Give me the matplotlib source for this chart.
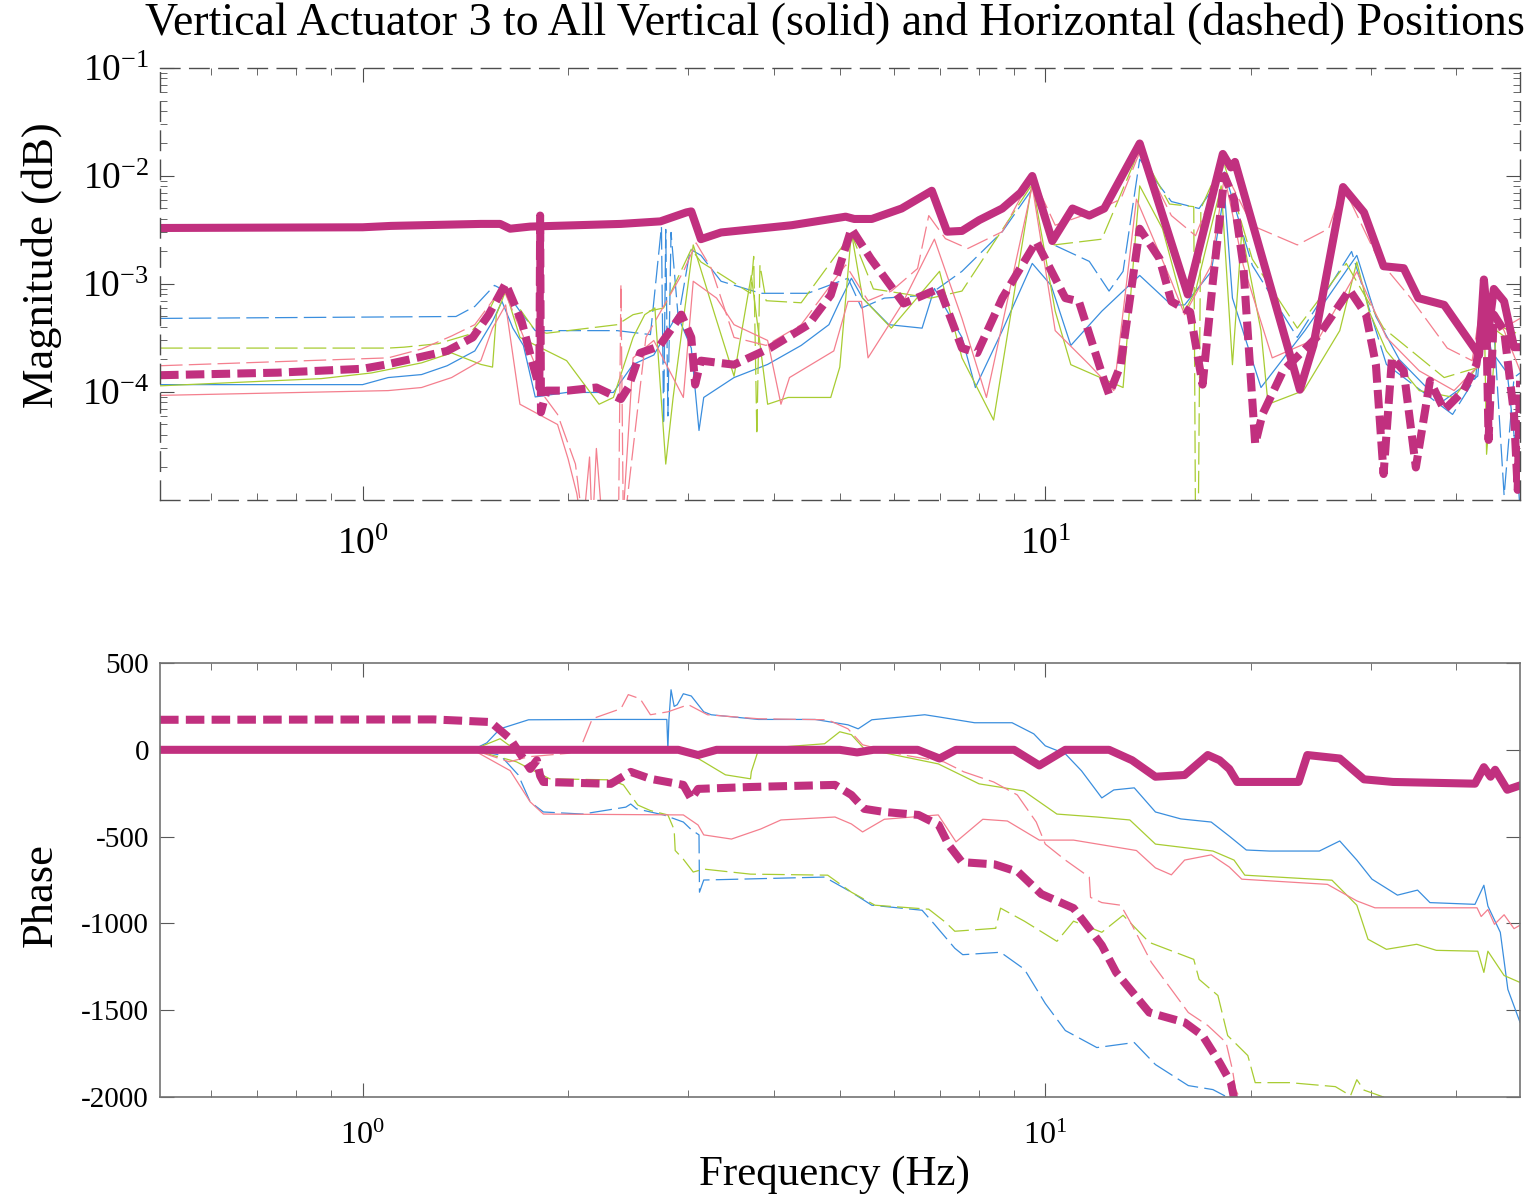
import matplotlib
matplotlib.use("Agg")
import matplotlib.pyplot as plt
from matplotlib.ticker import LogLocator, NullFormatter, FixedLocator

plt.rcParams['font.family'] = ['Liberation Serif', 'DejaVu Serif']
plt.rcParams['mathtext.fontset'] = 'stix'
plt.rcParams['axes.unicode_minus'] = False

MAGENTA = '#c1307f'
BLUE = '#3a8ede'
GREEN = '#a8cc32'
PINK = '#f47f8e'

# ---- magnitude, thick curves (vertical 3 solid, horizontal dashed)
mag_v3_f = [0.505, 1.0, 1.1, 1.49, 1.59, 1.645, 1.76, 2.39, 2.73, 2.98,
            3.03, 3.13, 3.35, 4.25, 5.1, 5.25, 5.57, 6.16, 6.82, 7.18,
            7.55, 8.0, 8.65, 9.2, 9.57, 10.24, 10.96, 11.6, 12.2, 13.75,
            16.17, 18.2, 18.7, 18.96, 23.6, 24.7, 27.3, 29.3, 31.3, 33.5,
            35.2, 38.4, 43.2, 43.9, 44.6, 45.4, 47.0, 48.6, 49.6]
mag_v3 = [3.3e-3, 3.35e-3, 3.45e-3, 3.6e-3, 3.6e-3, 3.25e-3, 3.4e-3, 3.6e-3, 3.8e-3, 4.6e-3,
          4.7e-3, 2.6e-3, 3.0e-3, 3.5e-3, 4.2e-3, 4.0e-3, 4.0e-3, 5.0e-3, 7.3e-3, 3.05e-3,
          3.1e-3, 3.9e-3, 5.0e-3, 7.0e-3, 1.0e-2, 2.5e-3, 5.0e-3, 4.3e-3, 5.0e-3, 2.0e-2,
          8.0e-4, 1.6e-2, 1.2e-2, 1.35e-2, 1.05e-4, 2.7e-4, 7.9e-3, 4.6e-3, 1.46e-3, 1.4e-3,
          7.4e-4, 6.4e-4, 2.2e-4, 1.1e-3, 3.7e-4, 9.0e-4, 6.9e-4, 2.6e-4, 2.6e-4]

mag_h3_f = [0.505, 0.75, 1.0, 1.08, 1.2, 1.33, 1.45, 1.53, 1.62, 1.71,
            1.77, 1.815, 1.82, 1.825, 1.86, 2.0, 2.2, 2.39, 2.45, 2.55,
            2.72, 2.93, 3.03, 3.07, 3.13, 3.5, 3.95, 4.5, 4.85, 5.2,
            5.55, 6.2, 7.0, 7.55, 7.95, 8.65, 9.7, 10.7, 11.2, 12.2,
            12.4, 12.9, 13.75, 14.7, 15.3, 16.3, 17.0, 17.6, 18.3, 18.9,
            19.5, 20.3, 20.8, 22.3, 25.2, 27.9, 29.5, 30.5, 31.3, 32.2,
            33.5, 34.9, 36.6, 38.4, 41.0, 42.8, 44.2, 44.6, 45.4, 47.0,
            48.6, 49.2, 49.6]
mag_h3 = [1.43e-4, 1.51e-4, 1.64e-4, 1.79e-4, 2.07e-4, 2.4e-4, 3.2e-4, 5.2e-4, 1.01e-3, 4.5e-4,
          1.95e-4, 1.1e-4, 4.3e-3, 6.5e-5, 1.03e-4, 1.03e-4, 1.1e-4, 8.6e-5, 1.1e-4, 2.3e-4,
          2.65e-4, 5.2e-4, 3.2e-4, 1.17e-4, 1.95e-4, 1.79e-4, 2.55e-4, 4.2e-4, 7.9e-4, 3.25e-3,
          1.72e-3, 6.6e-4, 9.1e-4, 2.55e-4, 2.3e-4, 7.4e-4, 2.47e-3, 7.4e-4, 6.9e-4, 1.27e-4,
          9.5e-5, 1.79e-4, 3.25e-3, 1.72e-3, 6.9e-4, 5.5e-4, 1.17e-4, 1.06e-3, 1.0e-2, 6.1e-3,
          1.49e-3, 3.3e-5, 6.2e-5, 1.57e-4, 3.4e-4, 8.8e-4, 5.2e-4, 1.79e-4, 1.74e-5, 2.07e-4,
          1.57e-4, 2.0e-5, 1.27e-4, 6.8e-5, 1.03e-4, 1.79e-4, 7.4e-4, 3.6e-5, 5.2e-4, 3.7e-4,
          6.2e-5, 1.24e-5, 1.27e-4]

# ---- magnitude, thin curves
mag_blue_h_f = [0.505, 1.37, 1.46, 1.56, 1.62, 1.70, 1.79, 2.36, 2.64, 2.74,
                2.76, 2.78, 2.80, 2.83, 2.90, 3.02, 3.13, 3.35, 3.83, 4.49,
                5.14, 5.38, 5.81, 6.75, 7.55, 8.65, 9.57, 10.34, 11.6, 12.4,
                13.0, 13.75, 15.3, 16.8, 18.3, 20.1, 23.4, 28.1, 30.0, 31.6,
                39.5, 42.7, 43.9, 45.4, 47.0, 48.6, 49.6]
mag_blue_h = [4.8e-4, 5.0e-4, 6.2e-4, 9.7e-4, 8.6e-4, 5.6e-4, 3.7e-4, 3.7e-4, 3.4e-4, 3.4e-3,
              5.0e-5, 3.2e-3, 6.0e-5, 3.0e-3, 4.8e-4, 2.1e-3, 1.84e-3, 1.06e-3, 8.2e-4, 8.2e-4,
              1.13e-3, 6.0e-4, 7.4e-4, 7.9e-4, 1.31e-3, 3.05e-3, 7.6e-3, 2.27e-3, 1.62e-3, 8.6e-4,
              1.31e-3, 1.43e-2, 5.8e-3, 5.0e-3, 1.09e-2, 1.49e-3, 3.2e-4, 2.0e-3, 5.2e-4, 1.8e-4,
              6.2e-5, 1.36e-4, 7.4e-4, 3.9e-4, 1.1e-5, 1.36e-4, 1.5e-4]

mag_blue_v_f = [0.505, 1.0, 1.09, 1.22, 1.33, 1.46, 1.55, 1.60, 1.66, 1.72,
                1.79, 1.99, 2.33, 2.49, 2.67, 2.89, 3.03, 3.11, 3.16, 3.5,
                3.92, 4.39, 4.82, 5.0, 5.2, 5.4, 5.9, 6.6, 6.88, 7.55,
                7.9, 8.65, 9.57, 10.2, 10.9, 12.1, 13.75, 15.3, 16.0, 17.5,
                18.3, 18.8, 20.7, 24.0, 28.6, 30.5, 33.0, 38.0, 43.0, 43.9,
                45.0, 47.5, 49.0, 49.6]
mag_blue_v = [1.17e-4, 1.17e-4, 1.36e-4, 1.45e-4, 1.75e-4, 2.4e-4, 4.5e-4, 6.9e-4, 3.9e-4, 2.7e-4,
              9.0e-5, 9.9e-5, 9.9e-5, 1.8e-4, 2.2e-4, 5.2e-4, 2.55e-4, 4.4e-5, 8.9e-5, 1.36e-4,
              1.8e-4, 2.7e-4, 4.2e-4, 6.9e-4, 1.13e-3, 7.4e-4, 4.2e-4, 3.9e-4, 9.1e-4, 3.2e-4,
              1.1e-4, 3.7e-4, 1.55e-3, 9.7e-4, 2.7e-4, 5.6e-4, 1.2e-3, 6.4e-4, 6.4e-4, 1.3e-3,
              7.1e-3, 7.4e-4, 1.1e-4, 3.7e-4, 1.84e-3, 5.0e-4, 2.0e-4, 8.0e-5, 1.4e-4, 6.0e-4,
              2.4e-4, 1.5e-4, 2.5e-5, 8e-6]

mag_green_h_f = [0.505, 1.09, 1.15, 1.29, 1.43, 1.53, 1.60, 1.79, 1.86, 2.36,
                 2.49, 2.76, 3.03, 3.13, 3.3, 3.7, 3.74, 3.78, 3.82, 3.9,
                 4.39, 5.2, 5.6, 6.8, 7.55, 9.57, 10.3, 12.1, 13.75, 15.2,
                 16.5, 16.6, 16.75, 16.9, 18.2, 20.1, 23.4, 27.6, 31.3, 38.4,
                 43.2, 44.0, 47.0, 49.6]
mag_green_h = [2.55e-4, 2.55e-4, 2.6e-4, 2.8e-4, 3.4e-4, 5.6e-4, 1.0e-3, 3.7e-4, 3.5e-4, 4.2e-4,
               5.2e-4, 6.0e-4, 2.1e-3, 1.6e-3, 1.3e-3, 8.2e-4, 1.8e-3, 4e-5, 1.5e-3, 7e-4,
               6.7e-4, 2.9e-3, 9e-4, 7.4e-4, 8.6e-4, 8.4e-3, 2.3e-3, 2.6e-3, 1.77e-2, 5.5e-3,
               5.2e-3, 5e-6, 5e-6, 5.0e-3, 1.43e-2, 1.7e-3, 3.9e-4, 1.55e-3, 3.9e-4, 1.36e-4,
               1.7e-4, 7.4e-4, 3.9e-4, 3.4e-4]

mag_green_v_f = [0.505, 0.87, 1.03, 1.22, 1.35, 1.49, 1.55, 1.57, 1.62, 1.66,
                 1.70, 1.99, 2.22, 2.33, 2.49, 2.59, 2.68, 2.78, 2.85, 3.05,
                 3.28, 3.5, 3.71, 3.92, 4.2, 4.85, 5.0, 5.2, 5.4, 5.95,
                 7.0, 7.55, 8.4, 9.57, 10.34, 10.9, 13.0, 13.75, 14.85, 16.0,
                 16.6, 18.1, 18.8, 19.4, 20.7, 21.2, 23.9, 27.0, 28.6, 29.8,
                 31.6, 35.3, 39.7, 43.2, 43.9, 44.3, 45.8, 49.6]
mag_green_v = [1.14e-4, 1.33e-4, 1.5e-4, 1.86e-4, 2.3e-4, 1.8e-4, 1.7e-4, 5.2e-4, 8.6e-4, 5.2e-4,
               3.2e-4, 1.95e-4, 7.7e-5, 8.9e-5, 3.2e-4, 5.2e-4, 6.0e-4, 2.15e-5, 8.9e-5, 2.3e-3,
               5.2e-4, 1.4e-4, 1.2e-3, 7.7e-5, 8.9e-5, 8.9e-5, 1.7e-4, 3.0e-3, 7.4e-4, 3.9e-4,
               1.31e-3, 2.07e-4, 5.5e-5, 8.8e-3, 5.6e-4, 1.79e-4, 1.1e-4, 8.1e-3, 3.25e-3, 5.6e-4,
               8.6e-4, 8.1e-3, 1.79e-4, 3.05e-3, 3.7e-4, 7.7e-5, 1.03e-4, 3.7e-4, 1.6e-3, 5.6e-4,
               2.4e-4, 1.03e-4, 8.9e-5, 1.8e-4, 1.0e-3, 2.65e-5, 3.7e-4, 2.55e-4]

mag_pink_h_f = [0.505, 1.09, 1.22, 1.35, 1.46, 1.56, 1.60, 1.79, 1.85, 1.93,
                2.05, 2.11, 2.37, 2.39, 2.41, 2.6, 2.95, 3.08, 3.24, 3.35,
                3.5, 3.9, 4.39, 5.1, 5.5, 5.95, 6.5, 6.75, 7.14, 7.7,
                8.65, 9.57, 10.34, 11.8, 12.9, 13.75, 15.3, 16.6, 18.2, 20.1,
                23.4, 26.0, 27.3, 30.7, 34.3, 38.8, 42.2, 43.9, 46.2, 49.6]
mag_pink_h = [1.75e-4, 2.07e-4, 2.5e-4, 3.3e-4, 4.2e-4, 7.4e-4, 9.7e-4, 1.79e-4, 8.9e-5, 6.2e-5,
              2.15e-5, 5e-6, 5e-6, 1.0e-3, 5e-6, 3.2e-4, 1.3e-3, 2.4e-3, 1.4e-3, 7.4e-4,
              3.2e-4, 2.7e-4, 4.2e-4, 1.5e-3, 7e-4, 8.6e-4, 1.39e-3, 4.3e-3, 2.63e-3, 2.13e-3,
              3.05e-3, 1.0e-2, 3.5e-3, 4.7e-3, 6.1e-3, 1.66e-2, 4.3e-3, 2.8e-3, 1.2e-2, 3.47e-3,
              2.3e-3, 3.25e-3, 8.1e-3, 1.72e-3, 7.4e-4, 2.55e-4, 1.95e-4, 9.7e-4, 3.7e-4, 4.8e-4]

mag_pink_v_f = [0.505, 1.09, 1.22, 1.35, 1.49, 1.55, 1.62, 1.70, 1.93, 2.0,
                2.06, 2.1, 2.15, 2.17, 2.2, 2.25, 2.4, 2.49, 2.67, 2.95,
                3.05, 3.3, 3.5, 3.92, 4.1, 4.22, 4.9, 5.14, 5.38, 5.5,
                6.16, 6.88, 7.55, 8.2, 9.57, 10.34, 11.6, 12.6, 13.6, 15.3,
                16.0, 17.5, 18.3, 19.5, 21.5, 25.2, 28.6, 31.6, 35.3, 39.7,
                43.2, 43.9, 47.0, 49.6]
mag_pink_v = [9.3e-5, 1.03e-4, 1.1e-4, 1.36e-4, 1.95e-4, 3.9e-4, 6.4e-4, 7.7e-5, 5.0e-5, 2.4e-5,
              1.14e-5, 5e-6, 2.5e-5, 5e-6, 3e-5, 5e-6, 5e-6, 2.07e-4, 3.0e-4, 8.9e-5,
              1.06e-3, 7.4e-4, 4.2e-4, 3.0e-4, 7.7e-5, 1.36e-4, 2.4e-4, 6.9e-4, 6.9e-4, 2.07e-4,
              6.4e-4, 2.6e-3, 4.8e-4, 8.9e-5, 8.1e-3, 3.7e-4, 1.79e-4, 1.03e-4, 6.1e-3, 1.06e-3,
              5.2e-4, 1.49e-3, 1.0e-2, 1.49e-3, 2.07e-4, 3.2e-4, 1.3e-3, 3.2e-4, 1.57e-4, 1.03e-4,
              1.79e-4, 7.4e-4, 3.7e-4, 1.57e-4]

# ---- phase, thick curves
ph_v3_f = [0.505, 1.5, 2.9, 3.1, 3.3, 5.0, 5.3, 5.6, 6.5, 7.0,
           7.4, 9.0, 9.8, 10.7, 12.4, 13.4, 14.5, 16.0, 17.3, 18.0,
           18.6, 19.1, 23.5, 24.2, 27.0, 29.3, 32.3, 42.6, 43.9, 44.9,
           45.6, 47.5, 49.6]
ph_v3 = [0, 0, 0, -30, 0, 0, -15, 0, 0, -50,
         0, 0, -90, 0, 0, -60, -155, -145, -30, -60,
         -110, -185, -185, -30, -50, -170, -185, -195, -100, -155,
         -115, -230, -205]

ph_h3_f = [0.505, 1.27, 1.54, 1.645, 1.76, 1.80, 1.82, 1.84, 2.31, 2.47,
           2.64, 2.95, 3.03, 3.10, 3.71, 4.92, 5.20, 5.43, 5.81, 6.52,
           6.98, 7.22, 7.55, 8.43, 9.13, 9.87, 11.0, 11.8, 12.1, 12.7,
           14.2, 16.0, 17.0, 18.0, 18.7, 19.0]
ph_h3 = [173, 175, 160, 64, -110, -60, -150, -185, -196, -127,
         -167, -202, -283, -225, -214, -202, -260, -340, -358, -375,
         -433, -548, -647, -660, -704, -831, -912, -1068, -1126, -1282,
         -1513, -1570, -1646, -1801, -1917, -2050]

# ---- phase, thin curves
ph_blue_v_f = [0.505, 1.45, 1.52, 1.59, 1.75, 2.3, 2.73, 2.79, 2.80, 2.81,
               2.83, 2.86, 2.89, 2.95, 3.03, 3.16, 3.24, 3.8, 4.6, 5.14,
               5.32, 5.57, 6.66, 6.97, 7.88, 8.94, 9.62, 10.0, 10.7, 11.3,
               12.1, 12.6, 13.5, 14.5, 15.8, 17.5, 18.6, 19.7, 21.3, 25.2,
               27.0, 28.6, 30.1, 32.8, 35.1, 36.6, 42.6, 43.9, 44.5, 46.4,
               47.6, 49.6]
ph_blue_v = [0, 0, 40, 121, 173, 175, 175, 175, 5, 175,
             346, 250, 260, 323, 310, 219, 202, 175, 175, 144,
             121, 173, 202, 190, 156, 156, 92, 23, -23, -121,
             -277, -231, -219, -358, -398, -416, -497, -577, -583, -583,
             -525, -635, -745, -837, -808, -880, -890, -780, -900, -1051,
             -1380, -1570]

ph_blue_h_f = [0.505, 1.45, 1.59, 1.69, 1.76, 1.84, 2.1, 2.43, 2.47, 2.52,
               2.76, 2.95, 3.03, 3.11, 3.115, 3.16, 4.75, 5.2, 5.57, 6.6,
               6.88, 7.37, 7.57, 8.6, 9.32, 10.0, 10.7, 11.9, 13.5, 14.5,
               16.2, 17.6, 18.3, 19.0]
ph_blue_h = [0, 0, -30, -144, -300, -358, -370, -330, -312, -340,
             -375, -416, -460, -490, -820, -750, -733, -820, -895, -924,
             -1005, -1143, -1180, -1166, -1264, -1461, -1617, -1715, -1686, -1813,
             -1934, -1957, -1992, -2100]

ph_green_v_f = [0.505, 1.45, 1.59, 1.66, 1.84, 2.95, 3.16, 3.4, 3.7, 3.71,
                3.8, 3.92, 4.75, 5.0, 5.2, 5.43, 6.2, 6.97, 8.0, 9.3,
                10.4, 11.9, 13.3, 14.5, 17.6, 18.9, 19.6, 26.3, 28.6, 29.7,
                31.6, 35.0, 37.4, 43.0, 43.9, 44.5, 47.0, 49.6]
ph_green_v = [0, 0, 64, 10, 0, 0, -69, -144, -167, -127,
              0, 10, 35, 104, 87, 6, -40, -81, -196, -237,
              -370, -387, -404, -543, -583, -635, -722, -751, -895, -1091,
              -1149, -1120, -1155, -1160, -1282, -1160, -1300, -1340]

ph_green_h_f = [0.505, 1.45, 1.68, 1.76, 1.88, 2.31, 2.41, 2.53, 2.64, 2.80,
                2.86, 2.87, 2.95, 3.05, 3.16, 3.7, 4.8, 5.2, 5.63, 6.75,
                7.14, 7.37, 8.46, 8.6, 9.32, 10.4, 11.0, 12.1, 13.0, 14.2,
                16.5, 16.8, 17.9, 18.5, 19.8, 20.3, 22.8, 26.6, 28.0, 28.6,
                29.3, 31.3, 32.5]
ph_green_h = [0, 0, -69, -110, -167, -173, -202, -318, -350, -375,
              -460, -580, -630, -704, -687, -716, -722, -820, -895, -918,
              -993, -1045, -1028, -912, -987, -1103, -987, -1051, -953, -1109,
              -1207, -1322, -1415, -1646, -1761, -1917, -1917, -1940, -1992, -1900,
              -1960, -2000, -2100]

ph_pink_h_f = [0.505, 1.45, 1.64, 1.75, 2.0, 2.08, 2.17, 2.39, 2.45, 2.55,
               2.64, 2.8, 3.0, 3.2, 3.8, 4.8, 5.14, 5.4, 6.2, 7.1,
               7.6, 8.4, 9.1, 9.7, 10.0, 10.7, 11.6, 11.65, 12.1, 12.9,
               13.4, 14.3, 15.3, 16.2, 17.3, 18.4, 18.8, 19.0, 19.8]
ph_pink_h = [0, 0, -69, -40, -20, 0, 179, 237, 318, 294,
             202, 219, 260, 202, 179, 173, 121, 29, -30, -69,
             -127, -185, -260, -416, -543, -635, -733, -850, -880, -895,
             -1010, -1224, -1380, -1513, -1588, -1686, -1842, -1957, -2100]

ph_pink_v_f = [0.505, 1.45, 1.645, 1.76, 1.84, 2.95, 3.1, 3.16, 3.47, 3.83,
               4.1, 4.92, 5.2, 5.4, 5.81, 6.97, 7.4, 8.1, 8.8, 9.8,
               11.0, 13.6, 14.5, 15.3, 16.0, 17.5, 18.6, 19.4, 25.9, 28.6,
               30.4, 42.9, 43.5, 44.5, 45.5, 47.0, 48.6, 49.6]
ph_pink_v = [0, 0, -120, -300, -370, -375, -433, -490, -514, -456,
             -404, -387, -427, -473, -400, -375, -530, -400, -410, -520,
             -520, -580, -680, -720, -635, -605, -675, -745, -775, -870,
             -910, -910, -960, -920, -1005, -950, -1030, -1010]

phase_ticks = [500, 0, -500, -1000, -1500, -2000]
mag_ticks = [1e-4, 1e-3, 1e-2, 1e-1]

THIN = 0.9
THICK = 5.8
DASH_THIN = (0, (18, 5))
DASH_THICK = (0, (2.3, 0.9))

fig = plt.figure(figsize=(15.39, 11.97), dpi=100)
ax1 = fig.add_axes([0.104, 0.5823, 0.8837, 0.3609])
ax2 = fig.add_axes([0.104, 0.0835, 0.8837, 0.3626])

# magnitude plot
thin_mag = [
    (mag_blue_h_f, mag_blue_h, BLUE, DASH_THIN),
    (mag_blue_v_f, mag_blue_v, BLUE, '-'),
    (mag_green_h_f, mag_green_h, GREEN, DASH_THIN),
    (mag_green_v_f, mag_green_v, GREEN, '-'),
    (mag_pink_h_f, mag_pink_h, PINK, DASH_THIN),
    (mag_pink_v_f, mag_pink_v, PINK, '-'),
]
for f, m, c, ls in thin_mag:
    ax1.plot(f, m, color=c, lw=THIN, ls=ls)
ax1.plot(mag_h3_f, mag_h3, color=MAGENTA, lw=THICK, ls=DASH_THICK)
ax1.plot(mag_v3_f, mag_v3, color=MAGENTA, lw=THICK, solid_joinstyle='round')

ax1.set_xscale('log')
ax1.set_yscale('log')
ax1.set_xlim(0.505, 49.6)
ax1.set_ylim(1e-5, 1e-1)
ax1.yaxis.set_major_locator(FixedLocator(mag_ticks))
ax1.yaxis.set_minor_locator(LogLocator(base=10, subs=range(2, 10)))
ax1.yaxis.set_minor_formatter(NullFormatter())
ax1.xaxis.set_minor_formatter(NullFormatter())
for s in ax1.spines.values():
    s.set_linestyle((0, (14, 7)))
    s.set_color('0.3')
    s.set_linewidth(1.0)
ax1.tick_params(which='both', direction='in', top=True, right=True, color='0.3')
ax1.tick_params(which='major', length=10, labelsize=27)
ax1.tick_params(axis='y', which='major', pad=8)
ax1.tick_params(axis='x', which='major', pad=20)
ax1.tick_params(which='minor', length=5)
ax1.set_ylabel('Magnitude (dB)', fontsize=32)
ax1.yaxis.set_label_coords(-0.072, 0.544)

# phase plot
thin_ph = [
    (ph_blue_h_f, ph_blue_h, BLUE, DASH_THIN),
    (ph_blue_v_f, ph_blue_v, BLUE, '-'),
    (ph_green_h_f, ph_green_h, GREEN, DASH_THIN),
    (ph_green_v_f, ph_green_v, GREEN, '-'),
    (ph_pink_h_f, ph_pink_h, PINK, DASH_THIN),
    (ph_pink_v_f, ph_pink_v, PINK, '-'),
]
for f, p, c, ls in thin_ph:
    ax2.plot(f, p, color=c, lw=THIN, ls=ls)
ax2.plot(ph_h3_f, ph_h3, color=MAGENTA, lw=THICK, ls=DASH_THICK)
ax2.plot(ph_v3_f, ph_v3, color=MAGENTA, lw=THICK, solid_joinstyle='round')

ax2.set_xscale('log')
ax2.set_xlim(0.505, 49.6)
ax2.set_ylim(-2000, 500)
ax2.set_yticks(phase_ticks)
ax2.xaxis.set_minor_formatter(NullFormatter())
for s in ax2.spines.values():
    s.set_color('0.45')
    s.set_linewidth(1.2)
ax2.tick_params(which='both', direction='in', top=True, right=True, color='0.35')
ax2.tick_params(which='major', length=10)
ax2.tick_params(which='minor', length=5)
ax2.tick_params(axis='y', labelsize=21, pad=8)
ax2.tick_params(axis='x', labelsize=23, pad=18)
ax2.set_ylabel('Phase', fontsize=32)
ax2.yaxis.set_label_coords(-0.073, 0.465)
ax2.set_xlabel('Frequency (Hz)', fontsize=31)
ax2.xaxis.set_label_coords(0.496, -0.135)

fig.text(0.5426, 0.981,
         'Vertical Actuator 3 to All Vertical (solid) and Horizontal (dashed) Positions',
         ha='center', va='center', fontsize=33)

fig.savefig('out.png', dpi=100)
